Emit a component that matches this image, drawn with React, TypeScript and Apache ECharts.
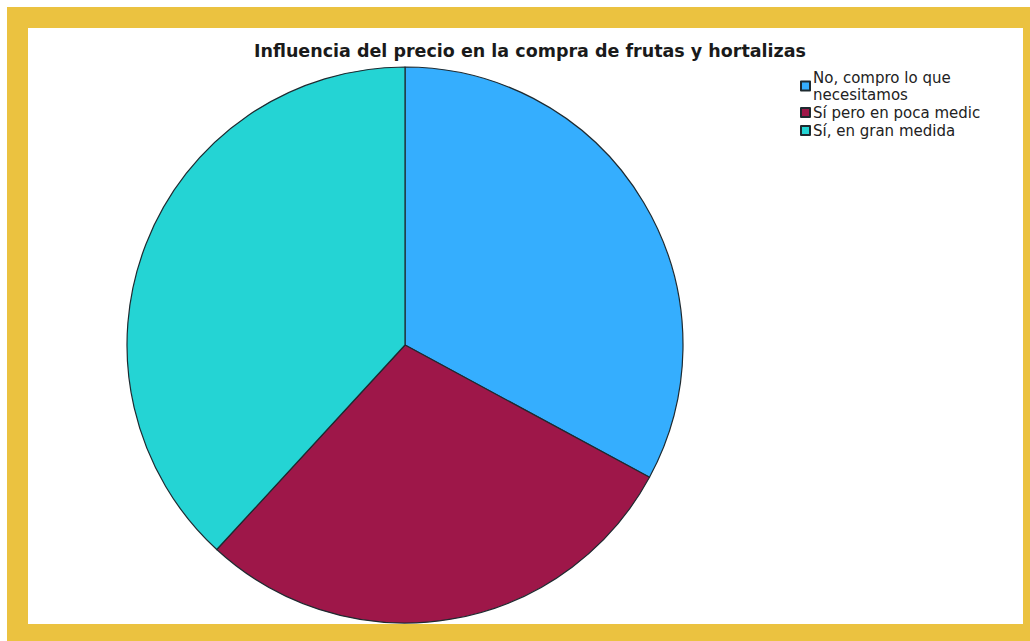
import React, { useEffect, useRef } from "react";
import * as echarts from "echarts";

const TITLE = "Influencia del precio en la compra de frutas y hortalizas";
const categories = ["No, compro lo que\nnecesitamos", "Sí pero en poca medic", "Sí, en gran medida"];
const counts = [25, 22, 29];
const colors = ["#35AEFE", "#9E1749", "#24D4D4"];

export default function App() {
  const ref = useRef<HTMLDivElement>(null);
  useEffect(() => {
    const chart = echarts.init(ref.current!, null, { renderer: "svg" });
    chart.setOption({
      animation: false,
      backgroundColor: "#ffffff",
      graphic: [
        { type: "rect", shape: { x: 7, y: 7, width: 1023, height: 634 }, style: { fill: "#EBC240" }, z: -10, silent: true },
        { type: "rect", shape: { x: 28, y: 28, width: 995, height: 596 }, style: { fill: "#ffffff" }, z: -9, silent: true },
      ],
      title: {
        text: TITLE,
        left: 525,
        top: 37,
        textAlign: "center",
        textStyle: { fontFamily: "DejaVu Sans", fontWeight: "bold", fontSize: 17.5, color: "#1a1a1a" },
      },
      legend: {
        orient: "vertical",
        left: 800,
        top: 69,
        padding: 0,
        itemWidth: 9,
        itemHeight: 9,
        itemGap: 1,
        icon: "rect",
        data: categories,
        textStyle: { fontFamily: "DejaVu Sans", fontSize: 15, color: "#222", padding: [0, 0, 0, -2], lineHeight: 17 },
      },
      series: [
        {
          type: "pie",
          center: [405, 345],
          radius: 278,
          startAngle: 90,
          clockwise: true,
          label: { show: false },
          labelLine: { show: false },
          emphasis: { disabled: true },
          itemStyle: { borderColor: "#1e2a30", borderWidth: 1.2 },
          data: categories.map((c, i) => ({ name: c, value: counts[i], itemStyle: { color: colors[i] } })),
        },
      ],
    });
    return () => chart.dispose();
  }, []);
  return (
    <div style={{ position: "fixed", left: 0, top: 0, width: 1030, height: 641 }}>
      <div ref={ref} style={{ width: 1030, height: 641 }} />
    </div>
  );
}
